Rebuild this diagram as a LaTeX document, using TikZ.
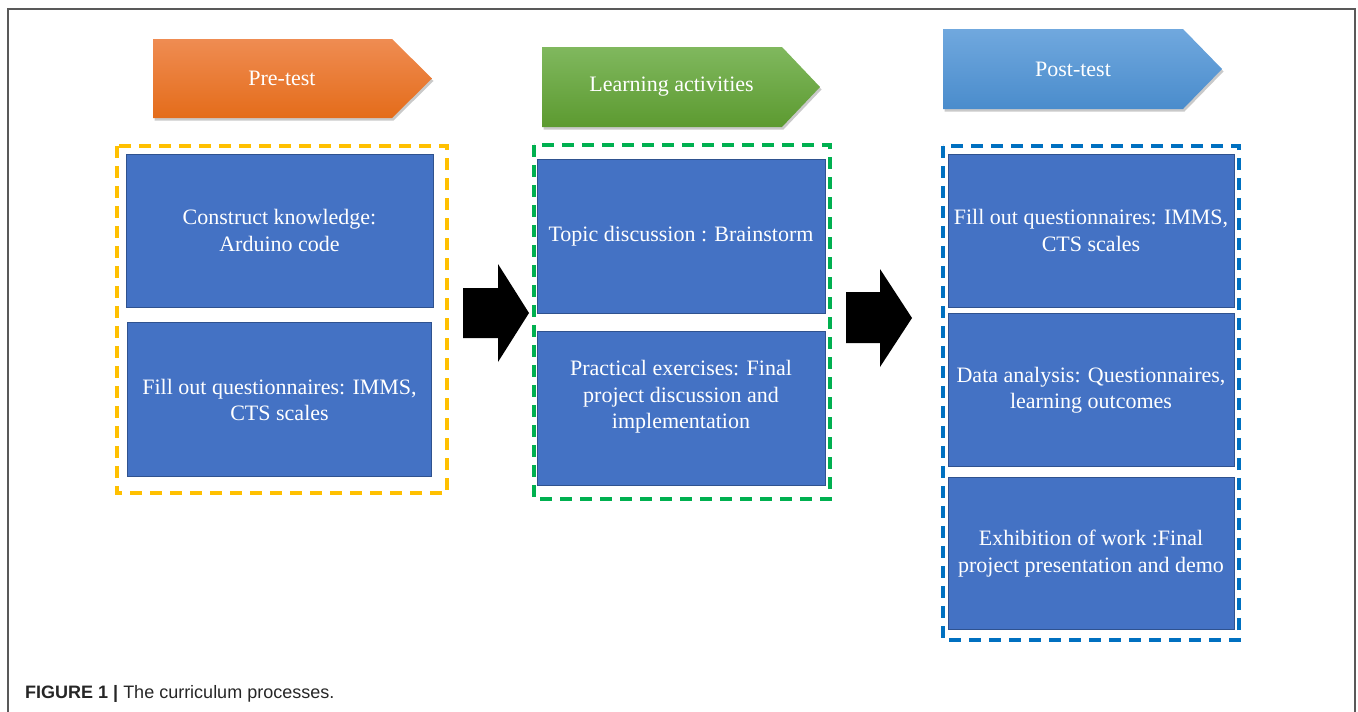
\documentclass[tikz,border=0pt]{standalone}
\usepackage{fontspec}
\setmainfont{Liberation Serif}
\newfontfamily\capfont{Liberation Sans}
\usepackage{xcolor}
\usepackage{tikz}
\usetikzlibrary{positioning,shadows}

\definecolor{boxblue}{HTML}{4472C4}
\definecolor{boxedge}{HTML}{2F528F}
\definecolor{preyellow}{HTML}{FFC000}
\definecolor{learngreen}{HTML}{00B050}
\definecolor{postblue}{HTML}{0070C0}

\begin{document}
\begin{tikzpicture}[x=1pt, y=-1pt,
    stepbox/.style={draw=boxedge, line width=0.8pt, fill=boxblue, text=white, align=center,
        inner sep=2pt, font=\fontsize{22}{26.5}\selectfont},
    groupbox/.style={line width=3.5pt, dash pattern=on 12pt off 8pt},
    headtext/.style={text=white, font=\fontsize{22}{26.5}\selectfont},
    headshadow/.style={drop shadow={shadow xshift=1.5pt, shadow yshift=-2.5pt, opacity=0.3, fill=black!70}}]

    \useasboundingbox (0,0) rectangle (1358,712);

    % frame
    \draw[black!65, line width=1.2pt] (8,712) -- (8,9) -- (1355,9) -- (1355,712);

    % phase headers
    \path[headshadow, top color={rgb,255:red,239;green,140;blue,82}, bottom color={rgb,255:red,228;green,108;blue,26}]
        (153,39) -- (392,39) -- (432,78.5) -- (392,118) -- (153,118) -- cycle;
    \path[headshadow, top color={rgb,255:red,128;green,184;blue,94}, bottom color={rgb,255:red,92;green,154;blue,48}]
        (542,47) -- (782,47) -- (820,87) -- (782,127) -- (542,127) -- cycle;
    \path[headshadow, top color={rgb,255:red,112;green,168;blue,222}, bottom color={rgb,255:red,74;green,140;blue,204}]
        (943,29) -- (1183,29) -- (1222,69) -- (1183,109) -- (943,109) -- cycle;

    \node[headtext] (pre) at (282,78.5) {Pre-test};
    \node[headtext] (learn) at (671.5,87) {Learning activities};
    \node[headtext] (post) at (1073,69) {Post-test};

    % pre-test steps
    \draw[groupbox, preyellow] (117,146) rectangle (447,493);
    \node[stepbox, minimum width=307, minimum height=153] (k1) at (279.5,230.5) {Construct knowledge:\\Arduino code};
    \node[stepbox, minimum width=304, minimum height=154, below=15pt of k1] (k2) {Fill out questionnaires: IMMS,\\CTS scales};

    % learning steps
    \draw[groupbox, learngreen] (534,145) rectangle (830,499);
    \node[stepbox, minimum width=288, minimum height=154] (l1) at (681,236) {Topic discussion : Brainstorm};
    \node[stepbox, minimum width=288, minimum height=154, below=18pt of l1] (l2) {};
    \node[headtext, align=center] (l2text) at ([yshift=12pt]l2.center) {Practical exercises: Final\\project discussion and\\implementation};

    % post-test steps
    \draw[groupbox, postblue] (943,146) rectangle (1239,640);
    \node[stepbox, minimum width=286, minimum height=153] (p1) at (1091,230.5) {Fill out questionnaires: IMMS,\\CTS scales};
    \node[stepbox, minimum width=286, minimum height=153, below=6pt of p1] (p2) {Data analysis: Questionnaires,\\learning outcomes};
    \node[stepbox, minimum width=286, minimum height=152, below=10pt of p2] (p3) {Exhibition of work :Final\\project presentation and demo};

    % block arrows
    \fill[black] (463,288) -- (498,288) -- (498,264) -- (529,313) -- (498,362) -- (498,338) -- (463,338) -- cycle;
    \fill[black] (846,292) -- (880,292) -- (880,269) -- (912,318) -- (880,367) -- (880,343) -- (846,343) -- cycle;

    % caption
    \node[anchor=base west, inner sep=0pt, text=black!85, font=\capfont\fontsize{18}{21}\selectfont] (cap) at (25,698)
        {\textbf{FIGURE 1 |} The curriculum processes.};

\end{tikzpicture}
\end{document}
